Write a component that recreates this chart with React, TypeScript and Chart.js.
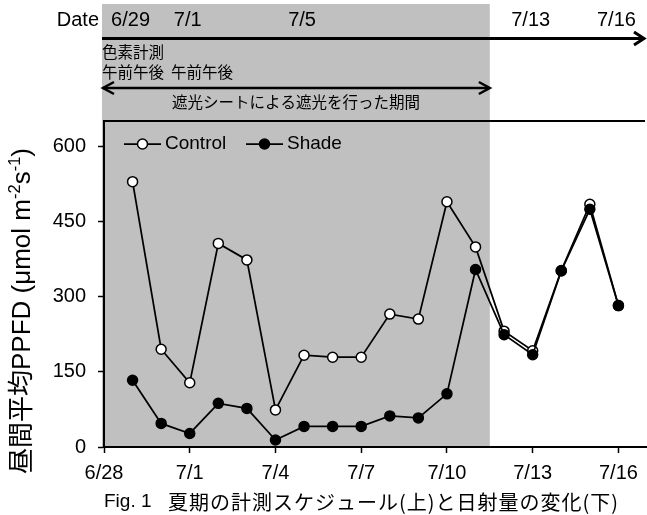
import React, { useEffect, useRef } from "react";
import { Chart, registerables } from "chart.js";

Chart.register(...registerables);

// Daily mean daytime PPFD for each treatment
const DATES = [
  "6/29", "6/30", "7/1", "7/2", "7/3", "7/4", "7/5", "7/6", "7/7",
  "7/8", "7/9", "7/10", "7/11", "7/12", "7/13", "7/14", "7/15", "7/16",
];
const CONTROL = [529, 195, 128, 406, 373, 74, 183, 179, 179, 265, 255, 489, 399, 231, 192, 352, 484, 282];
const SHADE = [133, 47, 27, 87, 77, 14, 41, 41, 41, 62, 58, 106, 354, 224, 184, 351, 474, 282];

const X_TICK_LABELS = ["6/28", "7/1", "7/4", "7/7", "7/10", "7/13", "7/16"];
const Y_TICKS = [0, 150, 300, 450, 600];

// Schedule strip above the plot
const TIMELINE_DATES = ["6/29", "7/1", "7/5", "7/13", "7/16"];
const SHADE_LAST_DAY = "7/11"; // shading sheet removed around noon of this day

const LATIN = '"Liberation Sans", Arial, "Noto Sans CJK JP", sans-serif';
const CJK = '"Noto Sans CJK JP", "Liberation Sans", sans-serif';

const dayOffset = (s: string) => {
  const [m, d] = s.split("/").map(Number);
  return m === 6 ? d - 28 : d + 2;
};

const toPoints = (vals: number[]) => DATES.map((d, i) => ({ x: dayOffset(d), y: vals[i] }));

function arrowHead(ctx: CanvasRenderingContext2D, tipX: number, y: number, dir: number, len: number, half: number) {
  ctx.beginPath();
  ctx.moveTo(tipX - dir * len, y - half);
  ctx.lineTo(tipX, y);
  ctx.lineTo(tipX - dir * len, y + half);
  ctx.stroke();
}

const decor = {
  id: "decor",
  beforeDraw(chart: any) {
    const { ctx, chartArea: a, scales } = chart;
    const x = scales.x;
    ctx.save();
    ctx.fillStyle = "#ffffff";
    ctx.fillRect(0, 0, chart.width, chart.height);
    const gx0 = a.left - 2;
    const gx1 = x.getPixelForValue(dayOffset(SHADE_LAST_DAY) + 0.5);
    ctx.fillStyle = "#c0c0c0";
    ctx.fillRect(gx0, 4, gx1 - gx0, a.bottom - 4);
    ctx.restore();
  },
  afterDraw(chart: any) {
    const { ctx, chartArea: a, scales } = chart;
    const x = scales.x;
    const gx0 = a.left - 2;
    const gx1 = x.getPixelForValue(dayOffset(SHADE_LAST_DAY) + 0.5);
    ctx.save();
    ctx.strokeStyle = "#000";
    ctx.fillStyle = "#000";

    // top frame line of the plot
    ctx.lineWidth = 2;
    ctx.beginPath();
    ctx.moveTo(a.left, a.top);
    ctx.lineTo(a.right - 2, a.top);
    ctx.stroke();

    // timeline
    const tY = 38.5;
    ctx.lineWidth = 3;
    ctx.beginPath();
    ctx.moveTo(gx0, tY);
    ctx.lineTo(a.right - 3, tY);
    ctx.stroke();
    arrowHead(ctx, a.right - 3, tY, 1, 10, 6.5);

    ctx.font = `20px ${LATIN}`;
    ctx.textBaseline = "middle";
    ctx.textAlign = "right";
    ctx.fillText("Date", gx0 - 3, 20);
    ctx.textAlign = "center";
    TIMELINE_DATES.forEach((d) => {
      ctx.fillText(d, x.getPixelForValue(dayOffset(d)) - 2, 20);
    });

    // pigment sampling notes
    ctx.font = `15.5px ${CJK}`;
    ctx.textAlign = "left";
    ctx.fillText("色素計測", gx0, 52);
    ctx.fillText("午前午後", gx0, 72);
    ctx.fillText("午前午後", gx0 + 69, 72);

    // shading period double arrow
    const sY = 88;
    ctx.lineWidth = 2.5;
    ctx.beginPath();
    ctx.moveTo(gx0 + 1, sY);
    ctx.lineTo(gx1, sY);
    ctx.stroke();
    arrowHead(ctx, gx0 + 1, sY, -1, 11, 6);
    arrowHead(ctx, gx1, sY, 1, 11, 6);
    ctx.textAlign = "center";
    ctx.fillText("遮光シートによる遮光を行った期間", (gx0 + gx1) / 2, 102);

    // legend
    const lY = 144;
    const items = [
      { label: "Control", fill: "#ffffff", x0: a.left + 20 },
      { label: "Shade", fill: "#000000", x0: a.left + 142 },
    ];
    items.forEach((it) => {
      ctx.lineWidth = 1.75;
      ctx.beginPath();
      ctx.moveTo(it.x0, lY);
      ctx.lineTo(it.x0 + 37, lY);
      ctx.stroke();
      ctx.beginPath();
      ctx.arc(it.x0 + 18.5, lY, 5, 0, Math.PI * 2);
      ctx.fillStyle = it.fill;
      ctx.fill();
      ctx.lineWidth = 1.5;
      ctx.stroke();
      ctx.fillStyle = "#000";
      ctx.font = `19px ${LATIN}`;
      ctx.textAlign = "left";
      ctx.fillText(it.label, it.x0 + 41, lY);
    });

    // y-axis title with superscripts
    const mainSize = 26;
    const supSize = 16.5;
    const parts = [
      { t: "昼間平均PPFD (μmol m", sup: false },
      { t: "-2", sup: true },
      { t: "s", sup: false },
      { t: "-1", sup: true },
      { t: ")", sup: false },
    ];
    const fontFor = (sup: boolean) => `${sup ? supSize : mainSize}px ${LATIN}`;
    let total = 0;
    parts.forEach((p) => {
      ctx.font = fontFor(p.sup);
      total += ctx.measureText(p.t).width;
    });
    ctx.translate(21, 311);
    ctx.rotate(-Math.PI / 2);
    ctx.textAlign = "left";
    ctx.textBaseline = "alphabetic";
    let cx = -total / 2;
    parts.forEach((p) => {
      ctx.font = fontFor(p.sup);
      ctx.fillText(p.t, cx, p.sup ? -1 : 9);
      cx += ctx.measureText(p.t).width;
    });
    ctx.setTransform(1, 0, 0, 1, 0, 0);

    // caption
    ctx.textBaseline = "middle";
    ctx.textAlign = "left";
    ctx.font = `19px ${LATIN}`;
    ctx.fillText("Fig. 1", a.left, 502);
    ctx.font = `20px ${CJK}`;
    (ctx as any).letterSpacing = "1px";
    ctx.fillText("夏期の計測スケジュール(上)と日射量の変化(下)", a.left + 64, 502);
    (ctx as any).letterSpacing = "0px";
    ctx.restore();
  },
};

export default function App() {
  const ref = useRef<HTMLCanvasElement | null>(null);

  useEffect(() => {
    if (!ref.current) return;
    const tickFont = { family: LATIN, size: 20 };
    const chart = new Chart(ref.current, {
      type: "line",
      data: {
        datasets: [
          {
            label: "Control",
            data: toPoints(CONTROL),
            borderColor: "#000",
            borderWidth: 1.75,
            pointRadius: 5,
            pointBorderWidth: 1.5,
            pointBackgroundColor: "#ffffff",
            pointBorderColor: "#000",
            order: 2,
          },
          {
            label: "Shade",
            data: toPoints(SHADE),
            borderColor: "#000",
            borderWidth: 1.75,
            pointRadius: 5,
            pointBorderWidth: 1.5,
            pointBackgroundColor: "#000",
            pointBorderColor: "#000",
            order: 1,
          },
        ],
      },
      options: {
        responsive: false,
        animation: false,
        devicePixelRatio: 1,
        layout: { autoPadding: false, padding: { top: 121, left: 0, right: 0, bottom: 0 } },
        plugins: { legend: { display: false }, tooltip: { enabled: false } },
        scales: {
          x: {
            type: "linear",
            min: 0,
            max: 19,
            afterBuildTicks: (s: any) => {
              s.ticks = X_TICK_LABELS.map((l) => ({ value: dayOffset(l) }));
            },
            afterFit: (s: any) => {
              s.height = 68;
              s.paddingLeft = 0;
              s.paddingRight = 0;
            },
            ticks: {
              color: "#000",
              font: tickFont,
              padding: 8,
              maxRotation: 0,
              autoSkip: false,
              callback: (v: any) => X_TICK_LABELS.find((l) => dayOffset(l) === v) ?? "",
            },
            grid: { drawOnChartArea: false, tickLength: 6, tickColor: "#000", tickWidth: 1.5 },
            border: { color: "#000", width: 2 },
          },
          y: {
            type: "linear",
            min: 0,
            max: 650,
            afterBuildTicks: (s: any) => {
              s.ticks = Y_TICKS.map((v) => ({ value: v }));
            },
            afterFit: (s: any) => {
              s.width = 104;
              s.paddingTop = 0;
              s.paddingBottom = 0;
            },
            ticks: { color: "#000", font: tickFont, padding: 12 },
            grid: { drawOnChartArea: false, tickLength: 6, tickColor: "#000", tickWidth: 1.5 },
            border: { color: "#000", width: 2 },
          },
        },
      },
      plugins: [decor],
    });
    return () => chart.destroy();
  }, []);

  return (
    <div style={{ position: "absolute", left: 0, top: 0, width: 647, height: 515, background: "#fff" }}>
      <canvas ref={ref} width={647} height={515} style={{ display: "block" }} />
    </div>
  );
}
